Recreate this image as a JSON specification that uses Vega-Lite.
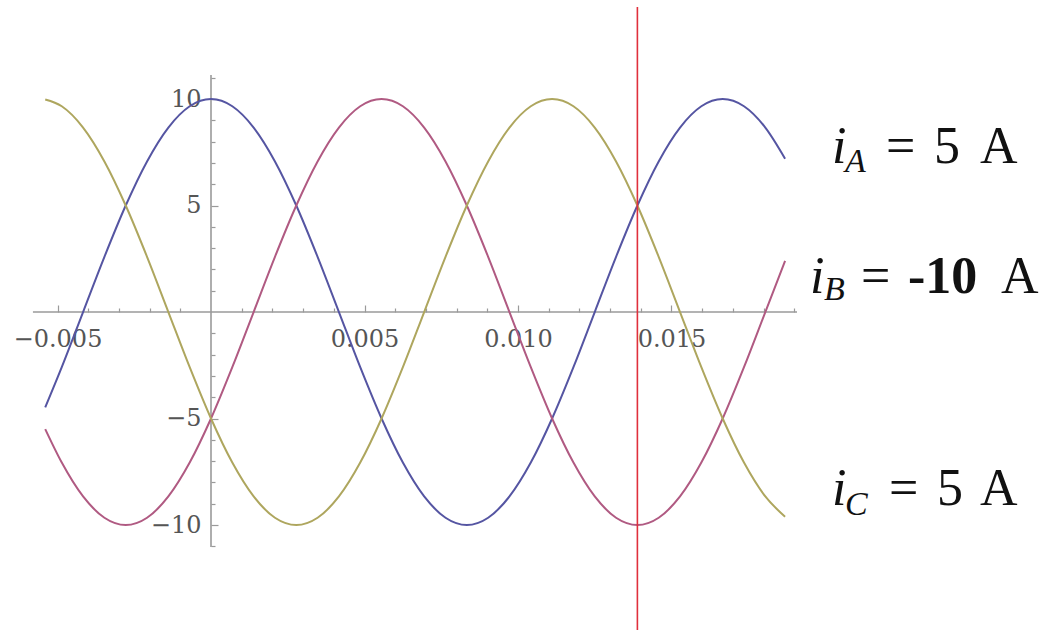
{
  "$schema": "https://vega.github.io/schema/vega-lite/v6.json",
  "width": 1043,
  "height": 630,
  "autosize": "none",
  "padding": 0,
  "background": "white",
  "config": {"view": {"stroke": null}},
  "resolve": {"axis": {"y": "independent"}},
  "datasets": {
    "curves": [
      {"t": -0.0054, "phase": "A", "i": -4.48}, {"t": -0.004861, "phase": "A", "i": -2.59}, {"t": -0.004167, "phase": "A", "i": 0}, {"t": -0.003472, "phase": "A", "i": 2.59}, {"t": -0.002778, "phase": "A", "i": 5}, {"t": -0.002083, "phase": "A", "i": 7.07}, {"t": -0.001389, "phase": "A", "i": 8.66}, {"t": -0.000694, "phase": "A", "i": 9.66}, {"t": 0, "phase": "A", "i": 10}, {"t": 0.000694, "phase": "A", "i": 9.66}, {"t": 0.001389, "phase": "A", "i": 8.66}, {"t": 0.002083, "phase": "A", "i": 7.07}, {"t": 0.002778, "phase": "A", "i": 5}, {"t": 0.003472, "phase": "A", "i": 2.59}, {"t": 0.004167, "phase": "A", "i": 0}, {"t": 0.004861, "phase": "A", "i": -2.59}, {"t": 0.005556, "phase": "A", "i": -5}, {"t": 0.00625, "phase": "A", "i": -7.07}, {"t": 0.006944, "phase": "A", "i": -8.66}, {"t": 0.007639, "phase": "A", "i": -9.66}, {"t": 0.008333, "phase": "A", "i": -10}, {"t": 0.009028, "phase": "A", "i": -9.66}, {"t": 0.009722, "phase": "A", "i": -8.66}, {"t": 0.010417, "phase": "A", "i": -7.07}, {"t": 0.011111, "phase": "A", "i": -5}, {"t": 0.011806, "phase": "A", "i": -2.59}, {"t": 0.0125, "phase": "A", "i": 0}, {"t": 0.013194, "phase": "A", "i": 2.59}, {"t": 0.013889, "phase": "A", "i": 5}, {"t": 0.014583, "phase": "A", "i": 7.07}, {"t": 0.015278, "phase": "A", "i": 8.66}, {"t": 0.015972, "phase": "A", "i": 9.66}, {"t": 0.016667, "phase": "A", "i": 10}, {"t": 0.017361, "phase": "A", "i": 9.66}, {"t": 0.018056, "phase": "A", "i": 8.66}, {"t": 0.0187, "phase": "A", "i": 7.2},
      {"t": -0.0054, "phase": "B", "i": -5.5}, {"t": -0.004861, "phase": "B", "i": -7.07}, {"t": -0.004167, "phase": "B", "i": -8.66}, {"t": -0.003472, "phase": "B", "i": -9.66}, {"t": -0.002778, "phase": "B", "i": -10}, {"t": -0.002083, "phase": "B", "i": -9.66}, {"t": -0.001389, "phase": "B", "i": -8.66}, {"t": -0.000694, "phase": "B", "i": -7.07}, {"t": 0, "phase": "B", "i": -5}, {"t": 0.000694, "phase": "B", "i": -2.59}, {"t": 0.001389, "phase": "B", "i": 0}, {"t": 0.002083, "phase": "B", "i": 2.59}, {"t": 0.002778, "phase": "B", "i": 5}, {"t": 0.003472, "phase": "B", "i": 7.07}, {"t": 0.004167, "phase": "B", "i": 8.66}, {"t": 0.004861, "phase": "B", "i": 9.66}, {"t": 0.005556, "phase": "B", "i": 10}, {"t": 0.00625, "phase": "B", "i": 9.66}, {"t": 0.006944, "phase": "B", "i": 8.66}, {"t": 0.007639, "phase": "B", "i": 7.07}, {"t": 0.008333, "phase": "B", "i": 5}, {"t": 0.009028, "phase": "B", "i": 2.59}, {"t": 0.009722, "phase": "B", "i": 0}, {"t": 0.010417, "phase": "B", "i": -2.59}, {"t": 0.011111, "phase": "B", "i": -5}, {"t": 0.011806, "phase": "B", "i": -7.07}, {"t": 0.0125, "phase": "B", "i": -8.66}, {"t": 0.013194, "phase": "B", "i": -9.66}, {"t": 0.013889, "phase": "B", "i": -10}, {"t": 0.014583, "phase": "B", "i": -9.66}, {"t": 0.015278, "phase": "B", "i": -8.66}, {"t": 0.015972, "phase": "B", "i": -7.07}, {"t": 0.016667, "phase": "B", "i": -5}, {"t": 0.017361, "phase": "B", "i": -2.59}, {"t": 0.018056, "phase": "B", "i": 0}, {"t": 0.0187, "phase": "B", "i": 2.4},
      {"t": -0.0054, "phase": "C", "i": 9.98}, {"t": -0.004861, "phase": "C", "i": 9.66}, {"t": -0.004167, "phase": "C", "i": 8.66}, {"t": -0.003472, "phase": "C", "i": 7.07}, {"t": -0.002778, "phase": "C", "i": 5}, {"t": -0.002083, "phase": "C", "i": 2.59}, {"t": -0.001389, "phase": "C", "i": 0}, {"t": -0.000694, "phase": "C", "i": -2.59}, {"t": 0, "phase": "C", "i": -5}, {"t": 0.000694, "phase": "C", "i": -7.07}, {"t": 0.001389, "phase": "C", "i": -8.66}, {"t": 0.002083, "phase": "C", "i": -9.66}, {"t": 0.002778, "phase": "C", "i": -10}, {"t": 0.003472, "phase": "C", "i": -9.66}, {"t": 0.004167, "phase": "C", "i": -8.66}, {"t": 0.004861, "phase": "C", "i": -7.07}, {"t": 0.005556, "phase": "C", "i": -5}, {"t": 0.00625, "phase": "C", "i": -2.59}, {"t": 0.006944, "phase": "C", "i": 0}, {"t": 0.007639, "phase": "C", "i": 2.59}, {"t": 0.008333, "phase": "C", "i": 5}, {"t": 0.009028, "phase": "C", "i": 7.07}, {"t": 0.009722, "phase": "C", "i": 8.66}, {"t": 0.010417, "phase": "C", "i": 9.66}, {"t": 0.011111, "phase": "C", "i": 10}, {"t": 0.011806, "phase": "C", "i": 9.66}, {"t": 0.0125, "phase": "C", "i": 8.66}, {"t": 0.013194, "phase": "C", "i": 7.07}, {"t": 0.013889, "phase": "C", "i": 5}, {"t": 0.014583, "phase": "C", "i": 2.59}, {"t": 0.015278, "phase": "C", "i": 0}, {"t": 0.015972, "phase": "C", "i": -2.59}, {"t": 0.016667, "phase": "C", "i": -5}, {"t": 0.017361, "phase": "C", "i": -7.07}, {"t": 0.018056, "phase": "C", "i": -8.66}, {"t": 0.0187, "phase": "C", "i": -9.61}
    ],
    "axislines": [
      {"x1": -0.0058, "x2": 0.019088, "y1": 0, "y2": 0},
      {"x1": 0, "x2": 0, "y1": -11.03, "y2": 11.13}
    ],
    "marker": [{"t": 0.013889, "top": 14.32, "bottom": -14.93}],
    "italic": [
      {"t": 0.020228, "y": 6.995, "s": "i"},
      {"t": 0.019512, "y": 0.892, "s": "i"},
      {"t": 0.020228, "y": -9.06, "s": "i"}
    ],
    "subs": [
      {"t": 0.020651, "y": 6.573, "s": "A"},
      {"t": 0.019967, "y": 0.563, "s": "B"},
      {"t": 0.020651, "y": -9.53, "s": "C"}
    ],
    "regular": [
      {"t": 0.021987, "y": 6.995, "s": "="},
      {"t": 0.02355, "y": 6.995, "s": "5"},
      {"t": 0.025049, "y": 6.995, "s": "A"},
      {"t": 0.021173, "y": 0.892, "s": "="},
      {"t": 0.025733, "y": 0.892, "s": "A"},
      {"t": 0.022085, "y": -9.06, "s": "="},
      {"t": 0.023648, "y": -9.06, "s": "5"},
      {"t": 0.025049, "y": -9.06, "s": "A"}
    ],
    "bold": [{"t": 0.022704, "y": 0.892, "s": "-10"}]
  },
  "layer": [
    {
      "data": {"name": "axislines"},
      "mark": {"type": "rule", "color": "#9a9a9a", "strokeWidth": 1.6},
      "encoding": {
        "x": {"field": "x1", "type": "quantitative", "scale": {"domain": [-0.006873, 0.027101], "nice": false, "zero": false}},
        "x2": {"field": "x2"},
        "y": {
          "field": "y1", "type": "quantitative",
          "scale": {"domain": [-14.93, 14.65], "nice": false, "zero": false},
          "axis": {
            "orient": "left", "offset": -211, "domain": false, "grid": false, "title": null, "labels": false,
            "values": [-11, -9, -8, -7, -6, -4, -3, -2, -1, 1, 2, 3, 4, 6, 7, 8, 9, 11],
            "tickSize": -4, "tickColor": "#9a9a9a", "tickWidth": 1.2
          }
        },
        "y2": {"field": "y2"}
      }
    },
    {
      "data": {"name": "curves"},
      "mark": {"type": "line", "interpolate": "monotone", "strokeWidth": 2},
      "encoding": {
        "x": {
          "field": "t", "type": "quantitative",
          "scale": {"domain": [-0.006873, 0.027101], "nice": false, "zero": false},
          "axis": {
            "orient": "bottom", "offset": -318, "domain": false, "grid": false, "title": null,
            "values": [-0.005, -0.004, -0.003, -0.002, -0.001, 0.001, 0.002, 0.003, 0.004, 0.005, 0.006, 0.007, 0.008, 0.009, 0.01, 0.011, 0.012, 0.013, 0.014, 0.015, 0.016, 0.017, 0.018, 0.019],
            "labelExpr": "abs(datum.value*200 - round(datum.value*200)) < 0.01 ? format(datum.value, '.3f') : ''",
            "tickSize": {"condition": {"test": "abs(datum.value*200 - round(datum.value*200)) < 0.01", "value": -7}, "value": -4},
            "labelFontSize": {"condition": {"test": "abs(datum.value*200 - round(datum.value*200)) < 0.01", "value": 24}, "value": 1},
            "tickColor": "#9a9a9a", "tickWidth": 1.2,
            "labelColor": "#555555", "labelFont": "DejaVu Serif",
            "labelPadding": 22, "labelOverlap": false, "labelFlush": false, "labelBound": false
          }
        },
        "y": {
          "field": "i", "type": "quantitative",
          "scale": {"domain": [-14.93, 14.65], "nice": false, "zero": false},
          "axis": {
            "orient": "left", "offset": -211, "domain": false, "grid": false, "title": null,
            "values": [-10, -5, 5, 10],
            "format": "d",
            "tickSize": -7, "labelFontSize": 24,
            "tickColor": "#9a9a9a", "tickWidth": 1.2,
            "labelColor": "#555555", "labelFont": "DejaVu Serif",
            "labelPadding": 17, "labelOverlap": false, "labelFlush": false, "labelBound": false
          }
        },
        "color": {
          "field": "phase", "type": "nominal",
          "scale": {"domain": ["A", "B", "C"], "range": ["#5555a2", "#b05a82", "#aea65e"]},
          "legend": null
        }
      }
    },
    {
      "data": {"name": "marker"},
      "mark": {"type": "rule", "color": "#e0303c", "strokeWidth": 1.6},
      "encoding": {
        "x": {"field": "t", "type": "quantitative"},
        "y": {"field": "top", "type": "quantitative", "axis": null},
        "y2": {"field": "bottom"}
      }
    },
    {
      "data": {"name": "italic"},
      "mark": {"type": "text", "font": "Liberation Serif", "fontStyle": "italic", "fontSize": 52, "align": "left", "baseline": "alphabetic", "color": "#111111"},
      "encoding": {
        "x": {"field": "t", "type": "quantitative"},
        "y": {"field": "y", "type": "quantitative", "axis": null},
        "text": {"field": "s"}
      }
    },
    {
      "data": {"name": "subs"},
      "mark": {"type": "text", "font": "Liberation Serif", "fontStyle": "italic", "fontSize": 34, "align": "left", "baseline": "alphabetic", "color": "#111111"},
      "encoding": {
        "x": {"field": "t", "type": "quantitative"},
        "y": {"field": "y", "type": "quantitative", "axis": null},
        "text": {"field": "s"}
      }
    },
    {
      "data": {"name": "regular"},
      "mark": {"type": "text", "font": "Liberation Serif", "fontSize": 52, "align": "left", "baseline": "alphabetic", "color": "#111111"},
      "encoding": {
        "x": {"field": "t", "type": "quantitative"},
        "y": {"field": "y", "type": "quantitative", "axis": null},
        "text": {"field": "s"}
      }
    },
    {
      "data": {"name": "bold"},
      "mark": {"type": "text", "font": "Liberation Serif", "fontWeight": "bold", "fontSize": 52, "align": "left", "baseline": "alphabetic", "color": "#111111"},
      "encoding": {
        "x": {"field": "t", "type": "quantitative"},
        "y": {"field": "y", "type": "quantitative", "axis": null},
        "text": {"field": "s"}
      }
    }
  ]
}
